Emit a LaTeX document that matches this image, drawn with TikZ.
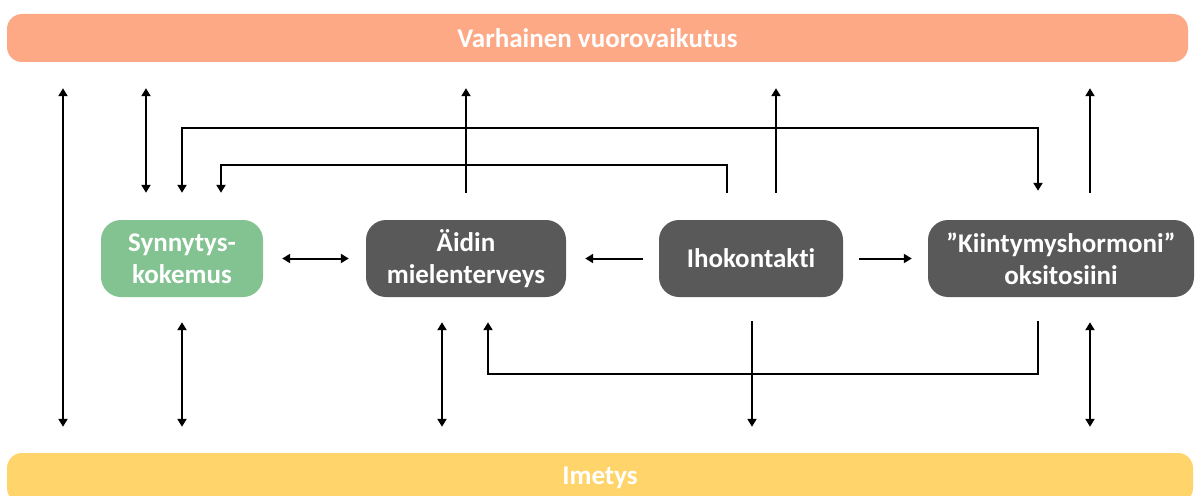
\documentclass[tikz,border=0pt]{standalone}
\usepackage{fontspec}
\setmainfont{Carlito}[Ligatures=NoCommon]
\usetikzlibrary{arrows.meta}
\definecolor{topc}{RGB}{253,169,134}
\definecolor{botc}{RGB}{255,213,107}
\definecolor{grn}{RGB}{130,195,145}
\definecolor{dgr}{RGB}{89,89,89}
\begin{document}
\begin{tikzpicture}[x=1pt,y=-1pt,
  txt/.style={text=white,font=\bfseries\fontsize{27}{32}\selectfont,align=center,inner sep=0pt},
  box/.style={txt,rounded corners=20pt,minimum height=77pt},
  bar/.style={txt,rounded corners=15pt},
  sarr/.style={line width=2pt,-{Triangle[length=8pt,width=9pt]}},
  dbl/.style={line width=2pt,{Triangle[length=8pt,width=9pt]}-{Triangle[length=8pt,width=9pt]}}]
\clip (0,0) rectangle (1196,495);
\fill[white] (0,0) rectangle (1196,495);
\node[bar,fill=topc,minimum width=1181pt,minimum height=48pt] (top) at (597.5,38) {Varhainen vuorovaikutus};
\node[bar,fill=botc,minimum width=1186pt,minimum height=50pt] (bot) at (600,478) {Imetys};
\node[box,fill=grn,minimum width=162pt] (syn) at (182,258.5) {Synnytys-\\kokemus};
\node[box,fill=dgr,minimum width=200pt] (aid) at (466,258.5) {Äidin\\mielenterveys};
\node[box,fill=dgr,minimum width=184pt] (iho) at (751,258.5) {Ihokontakti};
\node[box,fill=dgr,minimum width=266pt] (kii) at (1061,258.5) {”Kiintymyshormoni”\\oksitosiini};
\coordinate (c1) at (63,0);
\coordinate (c2) at (146,0);
\coordinate (c3) at (182,0);
\coordinate (c4) at (221,0);
\coordinate (c5) at (442,0);
\coordinate (c6) at (466,0);
\coordinate (c7) at (488,0);
\coordinate (c8) at (727,0);
\coordinate (c9) at (752,0);
\coordinate (c10) at (776,0);
\coordinate (c11) at (1038,0);
\coordinate (c12) at (1090,0);
\coordinate (r1) at (0,128);
\coordinate (r2) at (0,165);
\coordinate (r3) at (0,374);
% top area
\draw[dbl,shorten <=26pt,shorten >=26pt] (top.south -| c1) -- (bot.north -| c1);
\draw[dbl,shorten <=26pt,shorten >=27pt] (top.south -| c2) -- (syn.north -| c2);
\draw[dbl,shorten <=29pt,shorten >=27pt] (kii.north -| c11) |- (r1 -| c3) -- (syn.north -| c3);
\draw[sarr,shorten <=27pt,shorten >=27pt] (iho.north -| c8) |- (r2 -| c4) -- (syn.north -| c4);
\draw[sarr,shorten <=27pt,shorten >=26pt] (aid.north -| c6) -- (top.south -| c6);
\draw[sarr,shorten <=27pt,shorten >=26pt] (iho.north -| c10) -- (top.south -| c10);
\draw[sarr,shorten <=27pt,shorten >=26pt] (kii.north -| c12) -- (top.south -| c12);
% middle row
\draw[dbl,shorten <=19pt,shorten >=17pt] (syn.east) -- (aid.west);
\draw[sarr,shorten <=16pt,shorten >=19pt] (iho.west) -- (aid.east);
\draw[sarr,shorten <=16pt,shorten >=16pt] (iho.east) -- (kii.west);
% bottom area
\draw[dbl,shorten <=25pt,shorten >=26pt] (syn.south -| c3) -- (bot.north -| c3);
\draw[dbl,shorten <=25pt,shorten >=26pt] (aid.south -| c5) -- (bot.north -| c5);
\draw[sarr,shorten <=24pt,shorten >=25pt] (kii.south -| c11) |- (r3 -| c7) -- (aid.south -| c7);
\draw[sarr,shorten <=24pt,shorten >=26pt] (iho.south -| c9) -- (bot.north -| c9);
\draw[dbl,shorten <=25pt,shorten >=26pt] (kii.south -| c12) -- (bot.north -| c12);
\end{tikzpicture}
\end{document}
